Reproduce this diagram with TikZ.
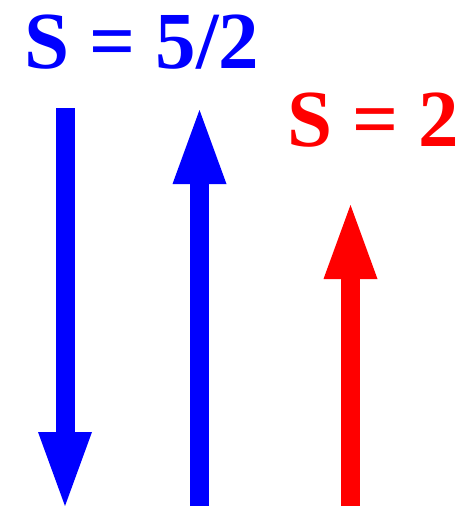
\documentclass[tikz,border=0pt]{standalone}
\usepackage{fontspec}
\setmainfont{Liberation Serif}
\usetikzlibrary{arrows.meta}
\definecolor{spinblue}{RGB}{0,0,255}
\definecolor{spinred}{RGB}{255,0,0}
\tikzset{
  spin/.style={line width=19pt,-{Triangle[length=74pt,width=54pt,line width=0pt]}},
  lbl/.style={font=\fontsize{81}{81}\selectfont\bfseries,inner sep=0pt,anchor=base west},
}

\begin{document}
\begin{tikzpicture}[x=1pt,y=-1pt]
\useasboundingbox (0,0) rectangle (460,506);
% labels
\node[lbl,text=spinblue] (sfive) at (24,68) {S = 5/2};
\node[lbl,text=spinred] (stwo) at (287,146) {S = 2};
% two spins for S = 5/2
\coordinate (dntop) at (65,108);
\coordinate (dntip) at (65,506);
\coordinate (upbot) at (199.5,506);
\coordinate (uptip) at (199.5,110);
% one spin for S = 2
\coordinate (redbot) at (350.5,506);
\coordinate (redtip) at (350.5,205);
\draw[spin,spinblue] (dntop) -- (dntip);
\draw[spin,spinblue] (upbot) -- (uptip);
\draw[spin,spinred] (redbot) -- (redtip);
\end{tikzpicture}
\end{document}
